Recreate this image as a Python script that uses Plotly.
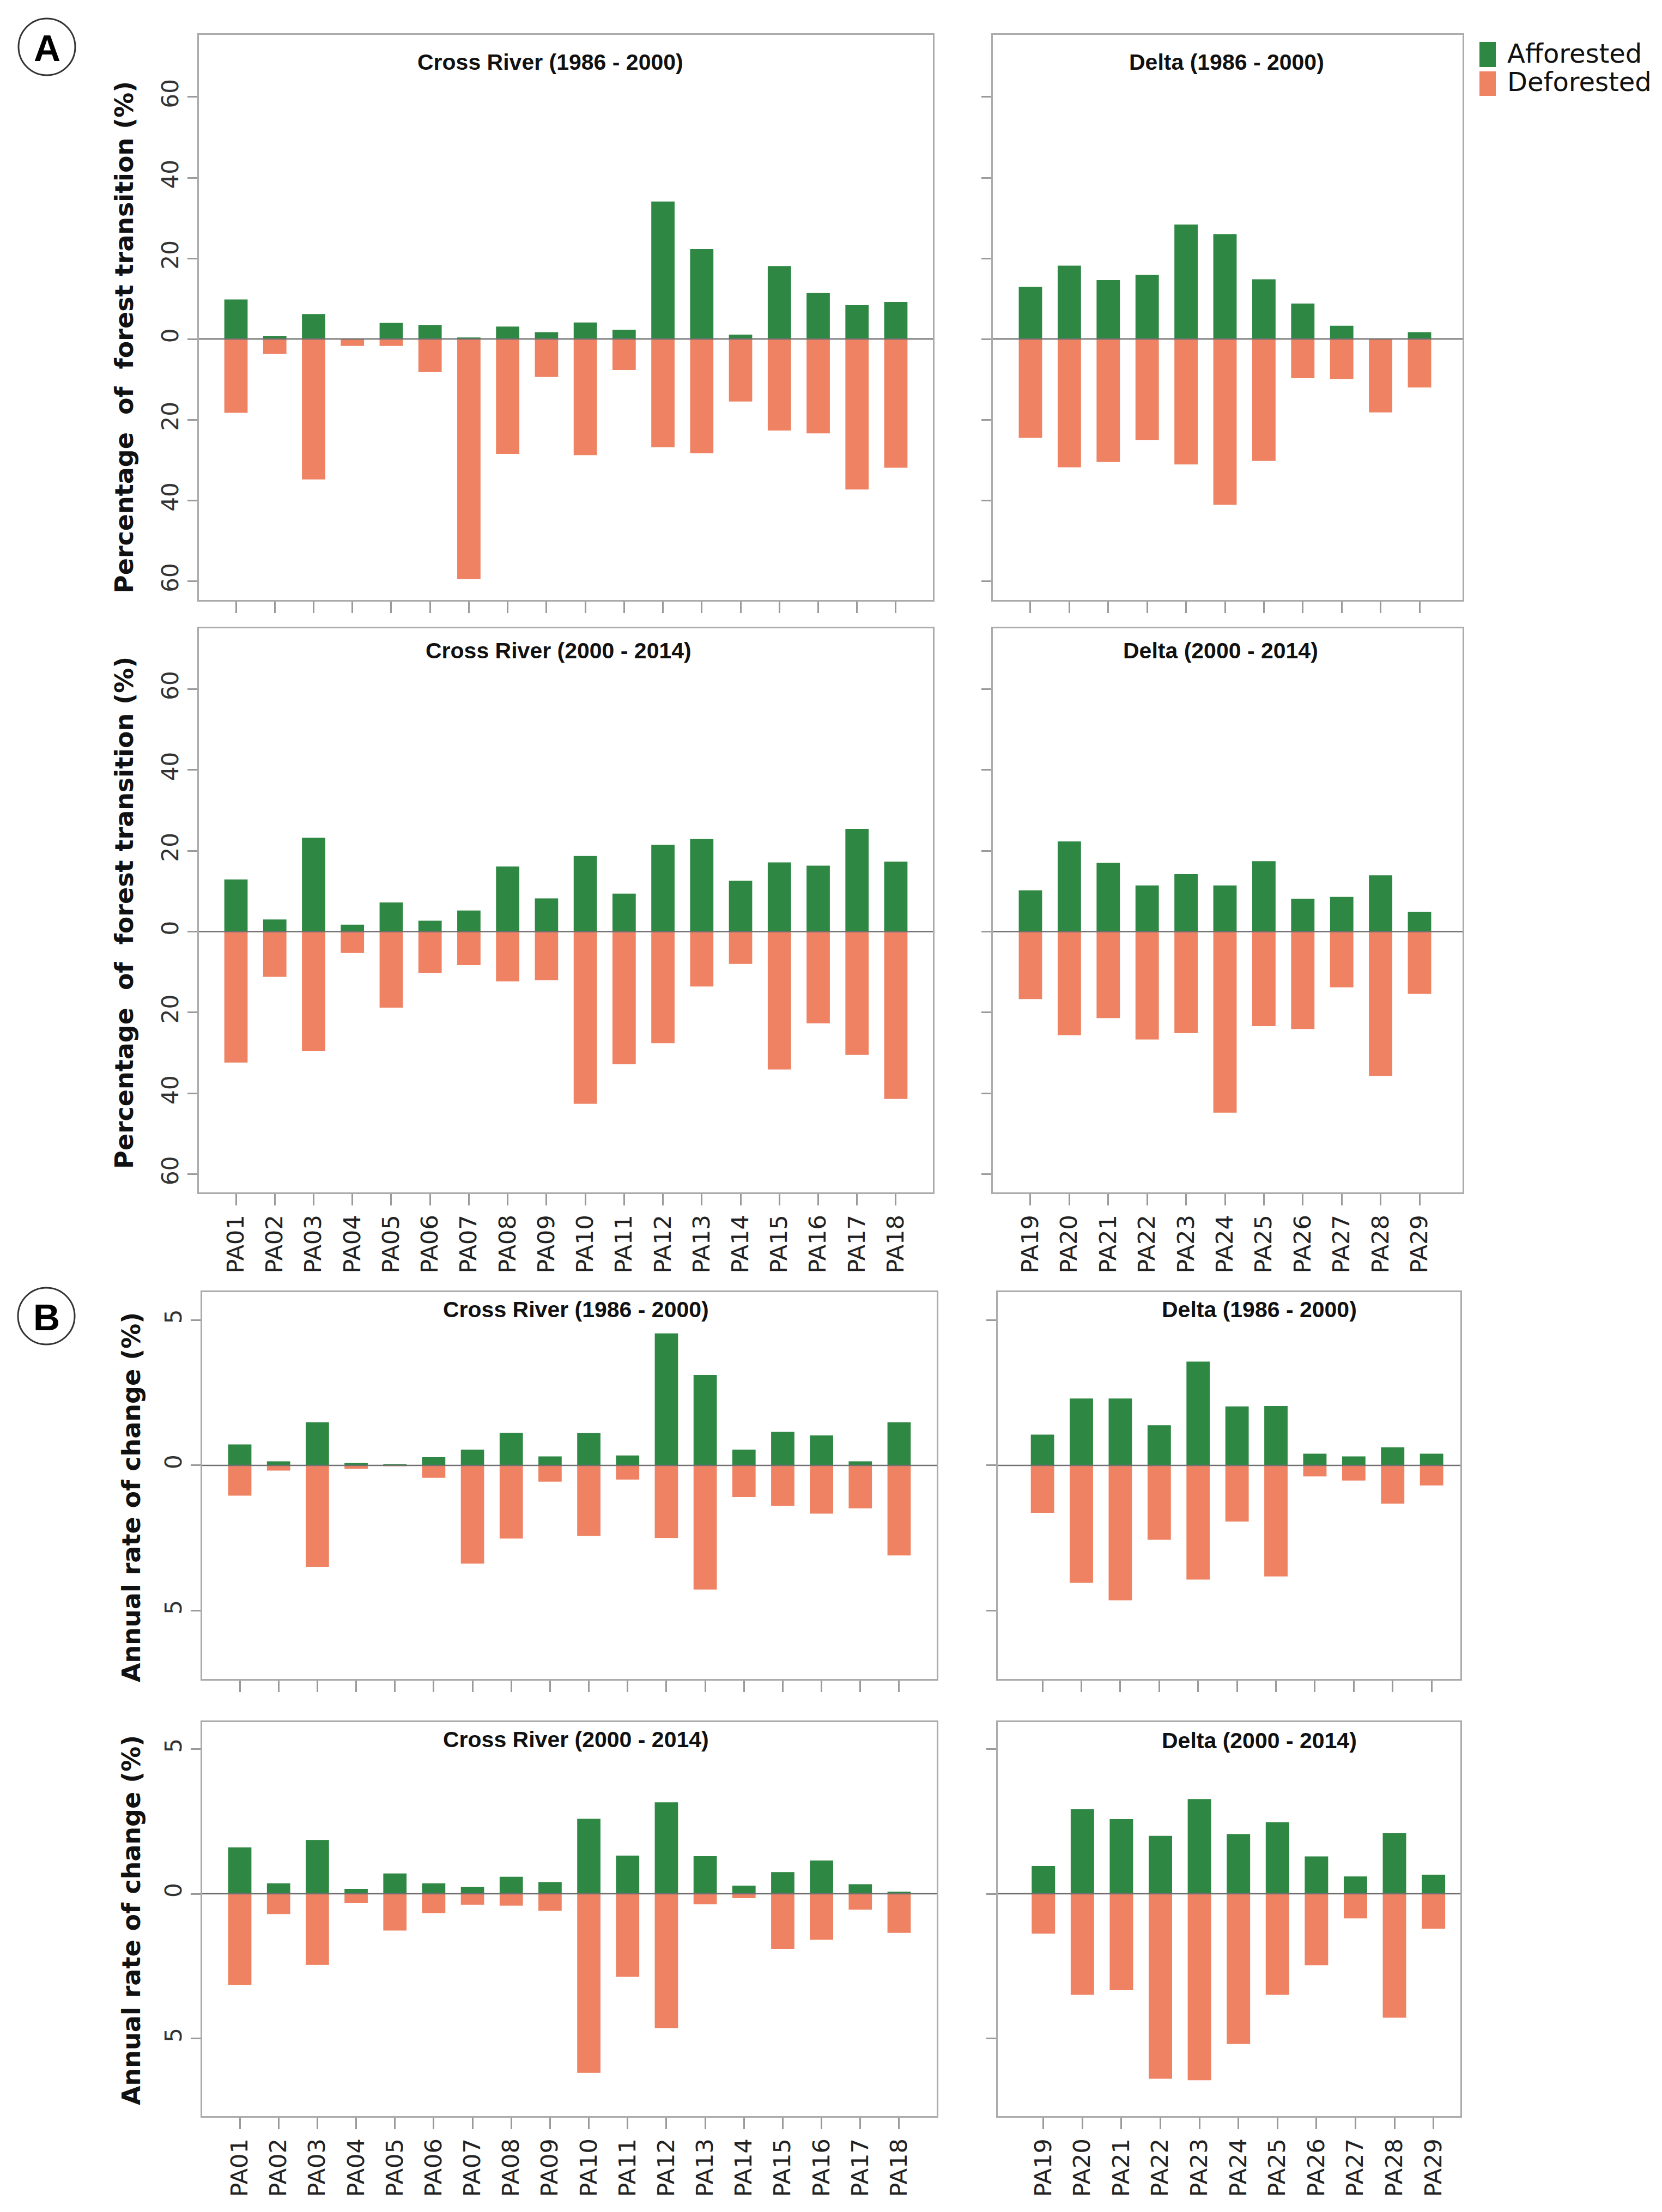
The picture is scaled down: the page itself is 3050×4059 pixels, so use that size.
import plotly.graph_objects as go

# ---------------- data ----------------
cr_sites = ["PA01", "PA02", "PA03", "PA04", "PA05", "PA06", "PA07", "PA08", "PA09",
            "PA10", "PA11", "PA12", "PA13", "PA14", "PA15", "PA16", "PA17", "PA18"]
delta_sites = ["PA19", "PA20", "PA21", "PA22", "PA23", "PA24", "PA25", "PA26", "PA27", "PA28", "PA29"]

# (A) Percentage of forest transition (%)
cr_8600_aff = [9.8, 0.7, 6.2, 0.0, 4.0, 3.5, 0.4, 3.1, 1.7, 4.1, 2.3, 34.1, 22.3, 1.1, 18.1, 11.4, 8.4, 9.2]
cr_8600_def = [18.3, 3.7, 34.8, 1.7, 1.7, 8.2, 59.5, 28.5, 9.4, 28.8, 7.7, 26.8, 28.3, 15.5, 22.7, 23.4, 37.3, 31.9]
de_8600_aff = [12.9, 18.2, 14.6, 15.9, 28.4, 26.0, 14.8, 8.8, 3.3, 0.0, 1.7]
de_8600_def = [24.5, 31.8, 30.5, 25.0, 31.1, 41.1, 30.2, 9.7, 9.9, 18.2, 12.0]
cr_0014_aff = [12.9, 3.0, 23.2, 1.7, 7.2, 2.7, 5.2, 16.1, 8.2, 18.7, 9.4, 21.5, 22.9, 12.6, 17.1, 16.3, 25.4, 17.3]
cr_0014_def = [32.4, 11.2, 29.6, 5.3, 18.8, 10.2, 8.3, 12.3, 12.0, 42.6, 32.8, 27.6, 13.6, 8.0, 34.1, 22.7, 30.5, 41.4]
de_0014_aff = [10.2, 22.3, 17.0, 11.4, 14.2, 11.4, 17.4, 8.1, 8.6, 13.9, 4.9]
de_0014_def = [16.7, 25.6, 21.4, 26.7, 25.1, 44.8, 23.4, 24.1, 13.8, 35.7, 15.4]

# (B) Annual rate of change (%)
cr_8600_rate_aff = [0.72, 0.14, 1.48, 0.08, 0.04, 0.28, 0.54, 1.12, 0.31, 1.11, 0.34, 4.54, 3.11, 0.54, 1.15, 1.03, 0.14, 1.48]
cr_8600_rate_def = [1.04, 0.18, 3.49, 0.12, 0.03, 0.43, 3.38, 2.52, 0.56, 2.43, 0.49, 2.50, 4.27, 1.09, 1.39, 1.66, 1.48, 3.10]
de_8600_rate_aff = [1.06, 2.30, 2.30, 1.38, 3.57, 2.03, 2.04, 0.40, 0.31, 0.62, 0.40]
de_8600_rate_def = [1.63, 4.04, 4.64, 2.56, 3.93, 1.93, 3.82, 0.38, 0.52, 1.32, 0.69]
cr_0014_rate_aff = [1.60, 0.36, 1.86, 0.17, 0.70, 0.36, 0.23, 0.59, 0.40, 2.59, 1.32, 3.16, 1.30, 0.28, 0.75, 1.15, 0.33, 0.07]
cr_0014_rate_def = [3.15, 0.70, 2.46, 0.32, 1.27, 0.67, 0.38, 0.41, 0.59, 6.19, 2.87, 4.64, 0.36, 0.15, 1.90, 1.59, 0.55, 1.35]
de_0014_rate_aff = [0.96, 2.92, 2.58, 2.00, 3.27, 2.06, 2.47, 1.29, 0.60, 2.09, 0.66]
de_0014_rate_def = [1.38, 3.49, 3.33, 6.39, 6.44, 5.19, 3.49, 2.47, 0.85, 4.28, 1.21]

pct_tickvals = [-60, -40, -20, 0, 20, 40, 60]
pct_ticktext = ["60", "40", "20", "0", "20", "40", "60"]
rate_tickvals = [-5, 0, 5]
rate_ticktext = ["5", "0", "5"]

series_names = ["Afforested", "Deforested"]
GREEN = "#2e8743"
ORANGE = "#ee8262"

W, H = 3050, 4059

def fx(px):
    return px / W

def fy(py):
    return 1 - py / H

# panel definitions (pixel boxes, axis ranges, labels)
panels = [
    dict(cats=cr_sites, aff=cr_8600_aff, de=cr_8600_def, bx=(357, 1704), by=(56, 1093),
         xr=[-0.955, 17.955], yr=[-64.7, 75.4], tv=pct_tickvals, tt=pct_ticktext,
         xl=False, yl=True, title="Cross River (1986 - 2000)", txy=(1002, 106)),
    dict(cats=delta_sites, aff=de_8600_aff, de=de_8600_def, bx=(1814, 2676), by=(56, 1093),
         xr=[-0.966, 11.106], yr=[-64.7, 75.4], tv=pct_tickvals, tt=pct_ticktext,
         xl=False, yl=False, title="Delta (1986 - 2000)", txy=(2243, 106)),
    dict(cats=cr_sites, aff=cr_0014_aff, de=cr_0014_def, bx=(357, 1704), by=(1145, 2180),
         xr=[-0.955, 17.955], yr=[-64.5, 75.0], tv=pct_tickvals, tt=pct_ticktext,
         xl=True, yl=True, title="Cross River (2000 - 2014)", txy=(1017, 1186)),
    dict(cats=delta_sites, aff=de_0014_aff, de=de_0014_def, bx=(1814, 2676), by=(1145, 2180),
         xr=[-0.966, 11.106], yr=[-64.5, 75.0], tv=pct_tickvals, tt=pct_ticktext,
         xl=True, yl=False, title="Delta (2000 - 2014)", txy=(2232, 1186)),
    dict(cats=cr_sites, aff=cr_8600_rate_aff, de=cr_8600_rate_def, bx=(363, 1711), by=(2363, 3073),
         xr=[-0.97, 17.97], yr=[-7.35, 5.96], tv=rate_tickvals, tt=rate_ticktext,
         xl=False, yl=True, title="Cross River (1986 - 2000)", txy=(1049, 2395)),
    dict(cats=delta_sites, aff=de_8600_rate_aff, de=de_8600_rate_def, bx=(1823, 2672), by=(2363, 3073),
         xr=[-1.15, 10.74], yr=[-7.35, 5.96], tv=rate_tickvals, tt=rate_ticktext,
         xl=False, yl=False, title="Delta (1986 - 2000)", txy=(2303, 2395)),
    dict(cats=cr_sites, aff=cr_0014_rate_aff, de=cr_0014_rate_def, bx=(363, 1711), by=(3152, 3875),
         xr=[-0.97, 17.97], yr=[-7.68, 5.93], tv=rate_tickvals, tt=rate_ticktext,
         xl=True, yl=True, title="Cross River (2000 - 2014)", txy=(1049, 3184)),
    dict(cats=delta_sites, aff=de_0014_rate_aff, de=de_0014_rate_def, bx=(1823, 2672), by=(3152, 3875),
         xr=[-1.17, 10.69], yr=[-7.68, 5.93], tv=rate_tickvals, tt=rate_ticktext,
         xl=True, yl=False, title="Delta (2000 - 2014)", txy=(2303, 3186)),
]

fig = go.Figure()
layout_axes = {}
shapes = []
annotations = []

BOX = "#ababab"
TICKC = "#9a9a9a"

for i, p in enumerate(panels, start=1):
    xa = "x" if i == 1 else f"x{i}"
    ya = "y" if i == 1 else f"y{i}"
    fig.add_trace(go.Bar(x=p["cats"], y=p["aff"], name=series_names[0], marker_color=GREEN,
                         marker_line_width=0, width=0.6, xaxis=xa, yaxis=ya, showlegend=False))
    fig.add_trace(go.Bar(x=p["cats"], y=[-v for v in p["de"]], name=series_names[1], marker_color=ORANGE,
                         marker_line_width=0, width=0.6, xaxis=xa, yaxis=ya, showlegend=False))
    xkey = "xaxis" if i == 1 else f"xaxis{i}"
    ykey = "yaxis" if i == 1 else f"yaxis{i}"
    layout_axes[xkey] = dict(
        domain=[fx(p["bx"][0]), fx(p["bx"][1])], anchor=ya, type="category",
        range=p["xr"], showline=True, mirror=True, linecolor=BOX, linewidth=3,
        ticks="outside", ticklen=21, tickcolor=TICKC, tickwidth=3,
        showgrid=False, zeroline=False, tickangle=-90, showticklabels=p["xl"],
        tickfont=dict(family="DejaVu Sans", size=43, color="#222222"), fixedrange=True)
    layout_axes[ykey] = dict(
        domain=[fy(p["by"][1]), fy(p["by"][0])], anchor=xa, range=p["yr"],
        tickvals=p["tv"], ticktext=p["tt"], tickangle=-90,
        showline=True, mirror=True, linecolor=BOX, linewidth=3,
        ticks="outside", ticklen=18, tickcolor=TICKC, tickwidth=3,
        showgrid=False, zeroline=False, showticklabels=p["yl"],
        tickfont=dict(family="DejaVu Sans", size=42, color="#333333"), fixedrange=True)
    # zero reference line (drawn above the bars, as in the original)
    shapes.append(dict(type="line", xref=f"{xa} domain", yref=ya, x0=0, x1=1, y0=0, y1=0,
                       line=dict(color="#707070", width=2.5), layer="above"))
    annotations.append(dict(text="<b>" + p["title"] + "</b>", xref="paper", yref="paper",
                            x=fx(p["txy"][0]), y=fy(p["txy"][1]), xanchor="center", yanchor="middle",
                            showarrow=False, font=dict(family="Liberation Sans", size=41, color="#111111")))

# y-axis titles
ytitles = [
    ("Percentage&nbsp; of&nbsp; forest transition (%)", 220, 611),
    ("Percentage&nbsp; of&nbsp; forest transition (%)", 220, 1667),
    ("Annual rate of change (%)", 233, 2740),
    ("Annual rate of change (%)", 233, 3516),
]
for txt, px, py in ytitles:
    annotations.append(dict(text="<b>" + txt + "</b>", xref="paper", yref="paper", x=fx(px), y=fy(py),
                            xanchor="center", yanchor="middle", textangle=-90, showarrow=False,
                            font=dict(family="DejaVu Sans", size=46, color="#111111")))

# panel letters in circles
for letter, cx, cy in [("A", 78, 78), ("B", 77, 2407)]:
    shapes.append(dict(type="circle", xref="paper", yref="paper",
                       x0=fx(cx - 52), x1=fx(cx + 52), y0=fy(cy + 52), y1=fy(cy - 52),
                       line=dict(color="#333333", width=3)))
    annotations.append(dict(text="<b>" + letter + "</b>", xref="paper", yref="paper", x=fx(cx), y=fy(cy + 2),
                            xanchor="center", yanchor="middle", showarrow=False,
                            font=dict(family="Liberation Sans", size=68, color="#000000")))

# legend (drawn manually to match the large square keys)
for name, col, y0, y1, ty in [(series_names[0], GREEN, 69, 115, 90), (series_names[1], ORANGE, 123, 168, 142)]:
    shapes.append(dict(type="rect", xref="paper", yref="paper", x0=fx(2707), x1=fx(2737),
                       y0=fy(y1), y1=fy(y0), fillcolor=col, line=dict(width=0)))
    annotations.append(dict(text=name, xref="paper", yref="paper", x=fx(2756), y=fy(ty),
                            xanchor="left", yanchor="middle", showarrow=False,
                            font=dict(family="DejaVu Sans", size=48, color="#111111")))

fig.update_layout(
    width=W, height=H, autosize=False,
    margin=dict(l=0, r=0, t=0, b=0),
    paper_bgcolor="white", plot_bgcolor="white",
    barmode="relative", bargap=0.4,
    shapes=shapes, annotations=annotations,
    showlegend=False,
    **layout_axes,
)

fig.write_html("out.html")
